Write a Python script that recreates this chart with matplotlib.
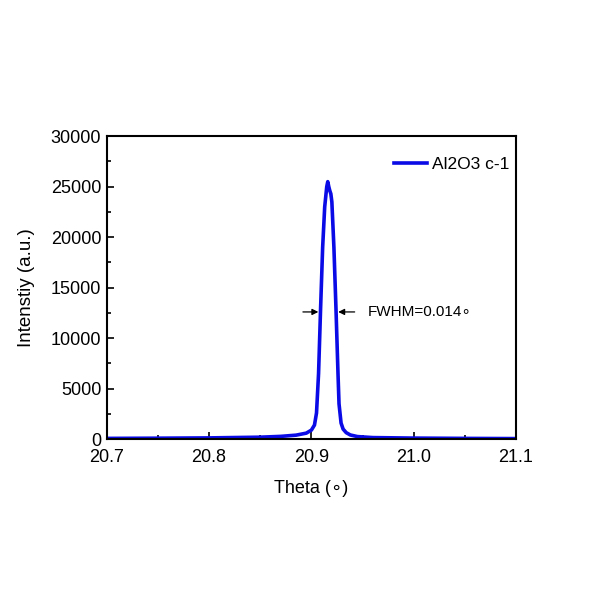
import numpy as np
import matplotlib.pyplot as plt
from matplotlib.ticker import MultipleLocator

plt.rcParams['font.family'] = ['Liberation Sans', 'DejaVu Sans']

# Dane
theta = [20.70, 20.75, 20.80, 20.85, 20.87, 20.885, 20.895, 20.900, 20.903,
         20.905, 20.907, 20.909, 20.911, 20.913, 20.915, 20.916, 20.917,
         20.918, 20.919, 20.920, 20.922, 20.924, 20.926, 20.927, 20.929,
         20.931, 20.934, 20.938, 20.945, 20.96, 21.0, 21.05, 21.1]
intensity = [80, 100, 130, 200, 280, 400, 600, 900, 1400,
             2600, 6500, 13000, 19000, 23000, 25000, 25500, 25000,
             24600, 24300, 23500, 19000, 13000, 6500, 3500, 1600,
             1000, 650, 420, 260, 160, 110, 80, 60]
label = 'Al2O3 c-1'
fwhm_y = 12600
fwhm_left = 20.9095
fwhm_right = 20.9235

fig = plt.figure(figsize=(6, 6), dpi=100)
ax = fig.add_axes([0.178, 0.268, 0.682, 0.505])
ax.plot(theta, intensity, color='#0a0ae6', lw=2.6, label=label)

ax.set_xlim(20.7, 21.1)
ax.set_ylim(0, 30000)
ax.xaxis.set_major_locator(MultipleLocator(0.1))
ax.xaxis.set_minor_locator(MultipleLocator(0.05))
ax.yaxis.set_major_locator(MultipleLocator(5000))
ax.yaxis.set_minor_locator(MultipleLocator(2500))
ax.set_xticklabels([f'{v:.1f}' for v in ax.get_xticks()])
ax.tick_params(which='both', direction='in', labelsize=13, width=1.2)
ax.tick_params(which='major', length=5)
ax.tick_params(axis='x', which='major', pad=7)
ax.tick_params(axis='y', which='major', pad=4)
ax.tick_params(which='minor', length=3)
for s in ax.spines.values():
    s.set_linewidth(1.5)

ax.set_xlabel('Theta (\u2218)', fontsize=13, labelpad=10)
ax.set_ylabel('Intenstiy (a.u.)', fontsize=13.5, labelpad=11)

# Strzałki FWHM
ax.annotate('', xy=(fwhm_left, fwhm_y), xytext=(fwhm_left - 0.0205, fwhm_y),
            arrowprops=dict(arrowstyle='-|>', color='black', lw=0.9, mutation_scale=9))
ax.annotate('', xy=(fwhm_right, fwhm_y), xytext=(fwhm_right + 0.0215, fwhm_y),
            arrowprops=dict(arrowstyle='-|>', color='black', lw=0.9, mutation_scale=9))
ax.text(fwhm_right + 0.032, fwhm_y, 'FWHM=0.014\u2218', fontsize=11, va='center')

ax.legend(loc='upper right', frameon=False, fontsize=12.5, handlelength=1.9,
          handletextpad=0.25, borderpad=0.2, borderaxespad=0.2,
          bbox_to_anchor=(1.0, 0.955))

fig.savefig('out.png', dpi=100)
